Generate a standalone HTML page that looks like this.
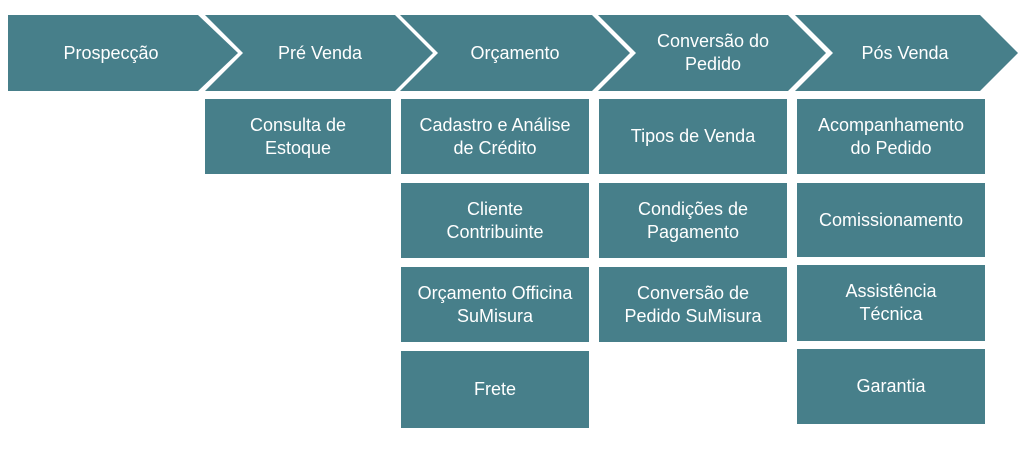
<!DOCTYPE html>
<html><head><style>
body{margin:0;width:1024px;height:466px;background:#fff;position:relative;font-family:"Liberation Sans",sans-serif;overflow:hidden}
.b{position:absolute;background:#477f8a;color:#fff;display:flex;align-items:center;justify-content:center;text-align:center;font-size:18px;line-height:23px}
.t{position:absolute;color:#fff;font-size:18px;line-height:23px;text-align:center;display:flex;align-items:center;justify-content:center;height:76px;top:15px}
</style></head><body>
<svg width="1024" height="466" style="position:absolute;left:0;top:0">
<g fill="#477f8a">
<polygon points="8,15 198,15 238,53 198,91 8,91"/>
<polygon points="205,15 395,15 433,53 395,91 205,91 243,53"/>
<polygon points="400,15 592,15 630,53 592,91 400,91 438,53"/>
<polygon points="598,15 788,15 826,53 788,91 598,91 636,53"/>
<polygon points="795,15 980,15 1018,53 980,91 795,91 833,53"/>
</g></svg>
<div class="t" style="left:8px;width:206px">Prospecção</div>
<div class="t" style="left:225px;width:190px">Pré Venda</div>
<div class="t" style="left:420px;width:190px">Orçamento</div>
<div class="t" style="left:618px;width:190px">Conversão do<br>Pedido</div>
<div class="t" style="left:815px;width:180px">Pós Venda</div>

<div class="b" style="left:205px;top:99px;width:186px;height:75px">Consulta de<br>Estoque</div>

<div class="b" style="left:401px;top:99px;width:188px;height:75px">Cadastro e Análise<br>de Crédito</div>
<div class="b" style="left:401px;top:183px;width:188px;height:75px">Cliente<br>Contribuinte</div>
<div class="b" style="left:401px;top:267px;width:188px;height:75px">Orçamento Officina<br>SuMisura</div>
<div class="b" style="left:401px;top:351px;width:188px;height:77px">Frete</div>

<div class="b" style="left:599px;top:99px;width:188px;height:75px">Tipos de Venda</div>
<div class="b" style="left:599px;top:183px;width:188px;height:75px">Condições de<br>Pagamento</div>
<div class="b" style="left:599px;top:267px;width:188px;height:75px">Conversão de<br>Pedido SuMisura</div>

<div class="b" style="left:797px;top:99px;width:188px;height:75px">Acompanhamento<br>do Pedido</div>
<div class="b" style="left:797px;top:183px;width:188px;height:74px">Comissionamento</div>
<div class="b" style="left:797px;top:265px;width:188px;height:76px">Assistência<br>Técnica</div>
<div class="b" style="left:797px;top:349px;width:188px;height:75px">Garantia</div>
</body></html>
